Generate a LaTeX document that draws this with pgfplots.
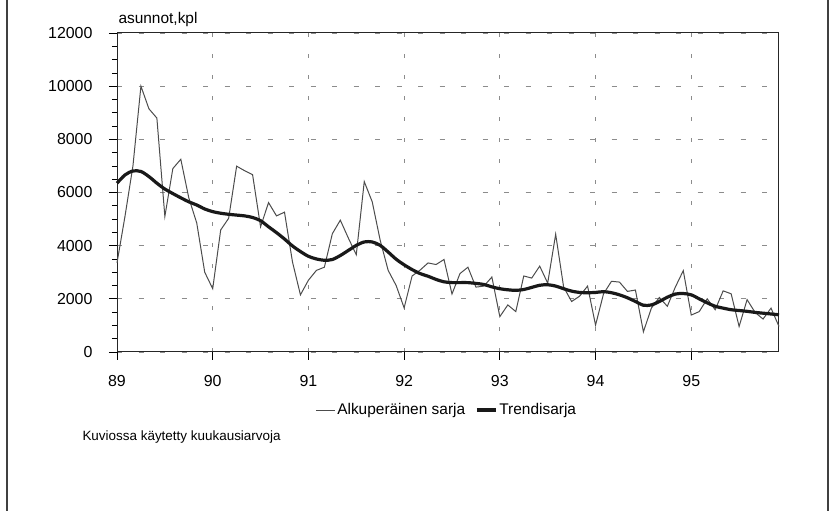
\documentclass[border=0pt]{standalone}
\usepackage{fontspec}
\setmainfont{Liberation Sans}
\usepackage{pgfplots}
\usepackage{pgfplotstable}
\pgfplotsset{compat=1.18}

\pgfplotstableread{
k v
0 3350
1 5100
2 7000
3 10000
4 9150
5 8800
6 5100
7 6900
8 7250
9 5800
10 4850
11 3000
12 2380
13 4590
14 5030
15 6990
16 6820
17 6670
18 4710
19 5620
20 5120
21 5260
22 3390
23 2150
24 2700
25 3070
26 3190
27 4450
28 4960
29 4290
30 3660
31 6410
32 5650
33 4200
34 3070
35 2500
36 1660
37 2860
38 3080
39 3350
40 3290
41 3480
42 2180
43 2950
44 3190
45 2440
46 2480
47 2820
48 1330
49 1770
50 1520
51 2860
52 2780
53 3230
54 2590
55 4430
56 2440
57 1900
58 2100
59 2480
60 1010
61 2190
62 2660
63 2630
64 2280
65 2330
66 760
67 1650
68 2050
69 1720
70 2440
71 3060
72 1390
73 1520
74 2000
75 1590
76 2300
77 2190
78 960
79 1970
80 1490
81 1240
82 1650
83 960
}\orig

\pgfplotstableread{
k v
0 6350
1 6660
2 6810
3 6790
4 6600
5 6350
6 6130
7 5960
8 5800
9 5650
10 5530
11 5380
12 5280
13 5220
14 5180
15 5150
16 5120
17 5060
18 4940
19 4710
20 4490
21 4250
22 3990
23 3780
24 3600
25 3500
26 3450
27 3480
28 3630
29 3820
30 4010
31 4140
32 4140
33 4010
34 3760
35 3490
36 3280
37 3100
38 2950
39 2850
40 2730
41 2640
42 2610
43 2610
44 2610
45 2580
46 2540
47 2450
48 2380
49 2340
50 2320
51 2350
52 2430
53 2510
54 2530
55 2480
56 2380
57 2290
58 2240
59 2230
60 2240
61 2270
62 2230
63 2150
64 2040
65 1900
66 1760
67 1770
68 1900
69 2060
70 2180
71 2200
72 2150
73 2000
74 1850
75 1720
76 1650
77 1590
78 1560
79 1530
80 1490
81 1460
82 1430
83 1400
}\trend

\begin{document}
\begin{tikzpicture}
\useasboundingbox (0,0) rectangle (830bp,511bp);
\draw[line width=1.3bp, black!75] (7bp,0) -- (7bp,511bp);
\draw[line width=1.3bp, black!75] (828bp,0) -- (828bp,511bp);
\begin{axis}[
  at={(117bp,159bp)}, anchor=south west,
  scale only axis, width=662bp, height=319bp,
  xmin=0, xmax=83, ymin=0, ymax=12000,
  xtick={0,12,24,36,48,60,72},
  xticklabels={89,90,91,92,93,94,95},
  ytick={0,2000,4000,6000,8000,10000,12000},
  scaled y ticks=false,
  minor y tick num=3,
  xtick pos=left, ytick pos=left,
  tick align=outside,
  major tick length=8bp, minor tick length=5bp,
  tick style={black, line width=0.7bp},
  axis line style={black!85, line width=1bp},
  grid=major,
  x grid style={black!45, line width=0.7bp, dash pattern=on 3.5bp off 17.5bp},
  y grid style={black!45, line width=0.7bp, dash pattern=on 5bp off 16.5bp},
  /pgf/number format/assume math mode=true,
  /pgf/number format/1000 sep={},
  tick label style={font=\fontsize{16}{18}\selectfont},
  xticklabel style={yshift=-12bp},
  yticklabel style={xshift=-13bp},
  legend columns=2,
  legend style={draw=none, fill=none, at={(0.498,-0.182)}, anchor=center,
    font=\fontsize{15.5}{18}\selectfont,
    /tikz/every even column/.append style={column sep=8bp}},
  legend image code/.code={\draw[#1] (0bp,0bp) -- (19bp,0bp);},
  clip=false,
]
\addplot[black!70, line width=1bp] table[x=k, y=v] {\orig};
\addlegendentry{Alkuperäinen sarja}
\addplot[black!90, line width=3.2bp, smooth] table[x=k, y=v] {\trend};
\addlegendentry{Trendisarja}
\node[anchor=base west, font=\fontsize{15.5}{18}\selectfont] at (rel axis cs:0,1) [xshift=-2bp, yshift=9bp] {asunnot,kpl};
\end{axis}
\node[anchor=base west, font=\fontsize{13.5}{16}\selectfont] at (79bp,70bp) {Kuviossa käytetty kuukausiarvoja};
\end{tikzpicture}
\end{document}
